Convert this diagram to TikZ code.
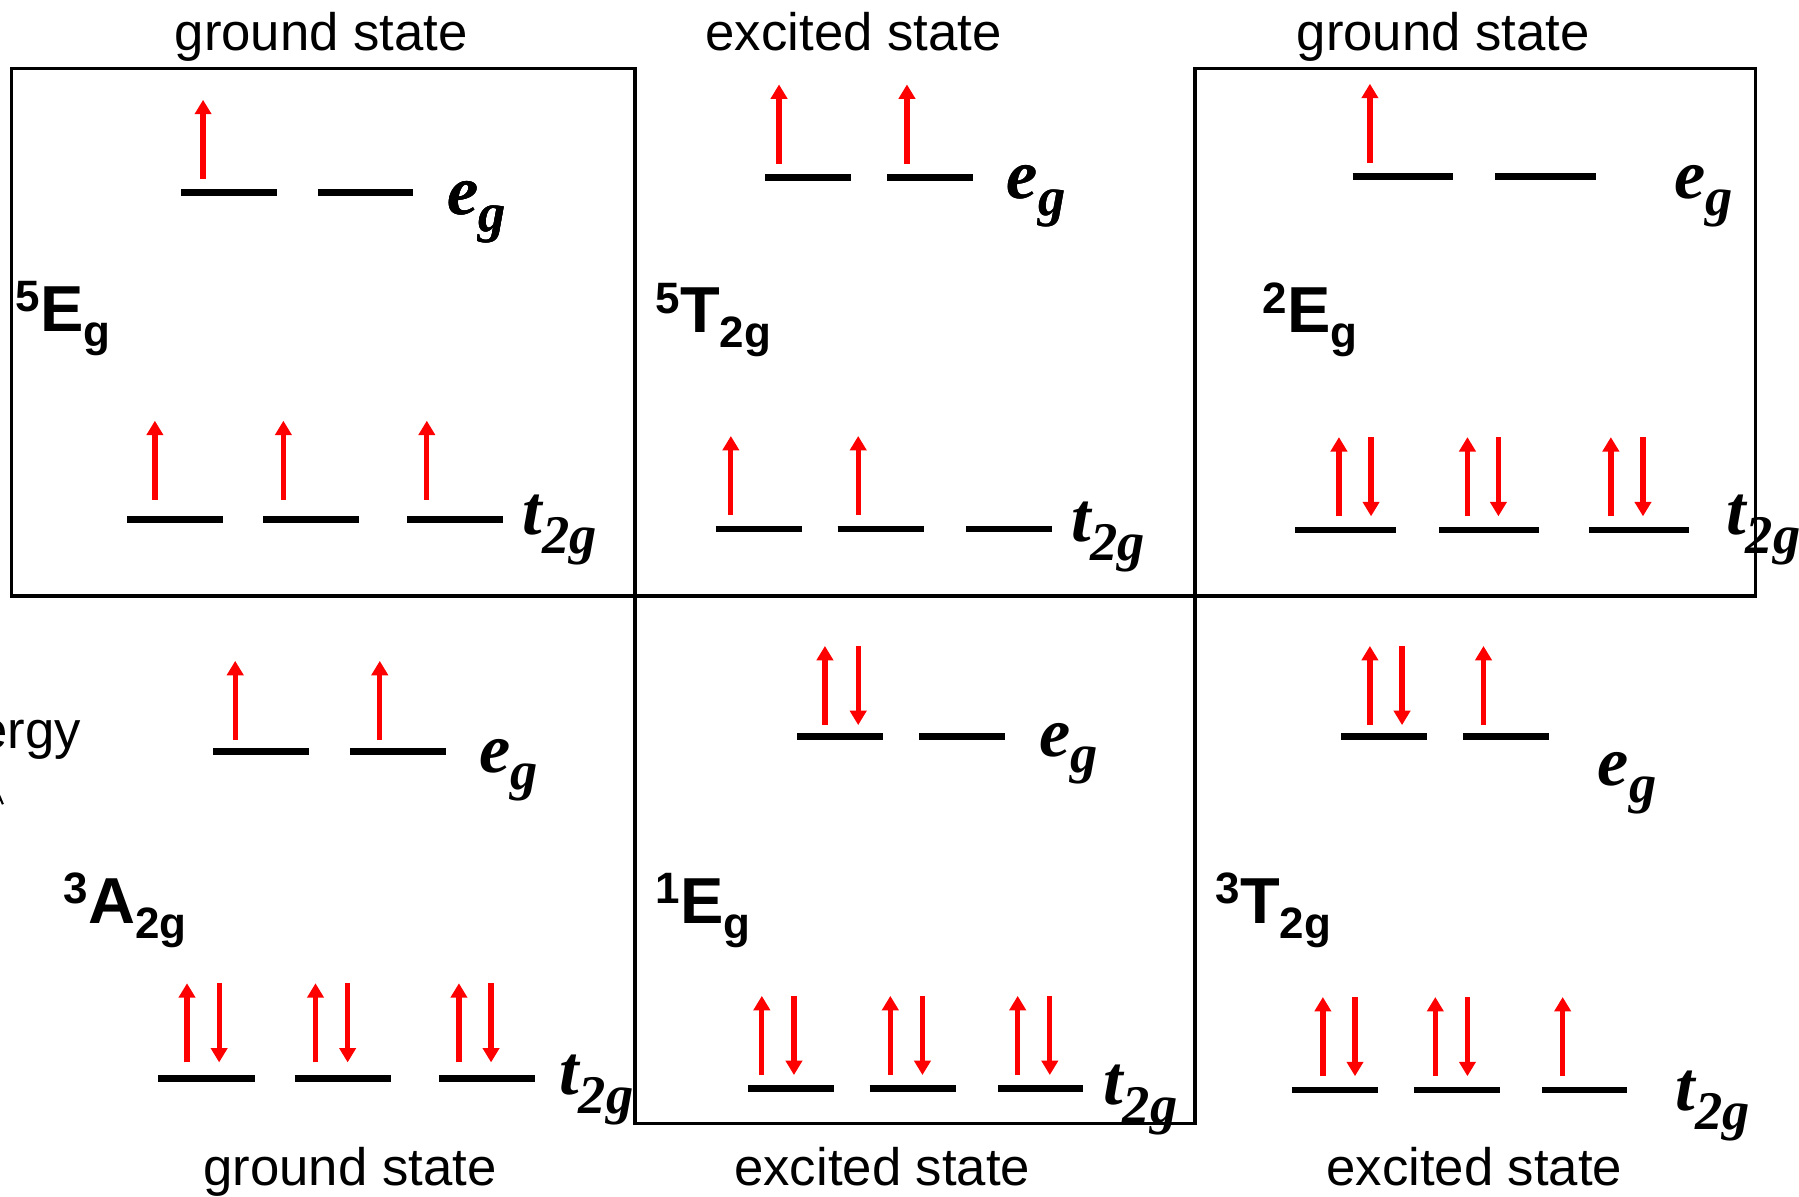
\documentclass[tikz,border=0pt]{standalone}
\usepackage{fontspec}
\setmainfont{Liberation Sans}
\newfontfamily\tnr{Liberation Serif}
\usepackage{tikz}
\usetikzlibrary{arrows.meta}
% orbital labels (bold italic serif) and term symbols (bold sans)
\newcommand{\orb}[3][4.8pt]{{\tnr\bfseries\itshape\fontsize{20}{22}\selectfont #2\raisebox{-#1}{\fontsize{15.5}{17}\selectfont #3}}}
\newcommand{\term}[3]{{\bfseries\raisebox{5.6pt}{\fontsize{12.5}{14}\selectfont #1}\fontsize{18.5}{22}\selectfont #2\raisebox{-4.2pt}{\fontsize{12.5}{14}\selectfont #3}}}
% spin arrows: [gap]{x}{level y}
\newcommand{\spinup}[3][12]{\draw[spin] (#2,{#3-#1}) -- (#2,{#3-#1-69});}
\newcommand{\spindn}[3][12]{\draw[spin] (#2,{#3-#1-69}) -- (#2,{#3-#1});}

\begin{document}
\begin{tikzpicture}[
    x=0.011473cm, y=-0.011473cm,
    lvl/.style={line width=1.9pt},
    spin/.style={red, line width=1.5pt, -{Triangle[length=4.1pt,width=4.6pt]}},
    frame/.style={line width=0.9pt},
    title/.style={font=\fontsize{15}{18}\selectfont, inner sep=0pt},
    lbl/.style={anchor=base west, inner sep=0pt},
  ]
  \useasboundingbox (0,0) rectangle (1568,1043);

  % frames
  \draw[frame] (10,59.5) rectangle (553.5,519.5);
  \draw[frame] (1041.6,59.5) rectangle (1529.7,519.5);
  \draw[frame] (553.5,519.5) rectangle (1041.6,979);

  % titles
  \node[title, anchor=base] (gsA) at (280,44) {ground state};
  \node[title, anchor=base] (esA) at (744,44) {excited state};
  \node[title, anchor=base] (gsB) at (1258,44) {ground state};
  \node[title, anchor=base] (gsC) at (305,1033) {ground state};
  \node[title, anchor=base] (esB) at (769,1033) {excited state};
  \node[title, anchor=base] (esC) at (1285,1033) {excited state};
  \node[title, anchor=base east] (en) at (71,652) {Energy};
  \coordinate (axA) at (-3,688);
  \coordinate (axB) at (2.5,701);
  \draw[line width=0.6pt] (axA) -- (axB);

  % 5Eg, ground state
  \foreach \a/\b in {158/241, 277/360} \draw[lvl] (\a,168) -- (\b,168);
  \spinup{177}{168}
  \foreach \a/\b in {111/194, 229.5/313, 355/438} \draw[lvl] (\a,452.7) -- (\b,452.7);
  \foreach \x in {135,247,372} \spinup[17]{\x}{452.7}
  \node[lbl] (egA) at (389,187) {\orb{e}{g}};
  \node[lbl] (tgA) at (455,466) {\orb[5.4pt]{t}{2g}};
  \node[lbl] (stA) at (13,289) {\term{5}{E}{g}};

  % 5T2g, excited state
  \foreach \a/\b in {667/741.5, 773.4/848} \draw[lvl] (\a,154.6) -- (\b,154.6);
  \foreach \x in {679,790.5} \spinup{\x}{154.6}
  \foreach \a/\b in {624/699, 730/805, 842/917} \draw[lvl] (\a,461) -- (\b,461);
  \foreach \x in {637,748} \spinup{\x}{461}
  \node[lbl] (egB) at (877,173) {\orb{e}{g}};
  \node[lbl] (tgB) at (933,472) {\orb[5.4pt]{t}{2g}};
  \node[lbl] (stB) at (571,290) {\term{5}{T}{2g}};

  % 2Eg, ground state
  \foreach \a/\b in {1179/1266, 1303/1391} \draw[lvl] (\a,154) -- (\b,154);
  \spinup{1194}{154}
  \foreach \a/\b in {1129/1217, 1254/1341, 1385/1472} \draw[lvl] (\a,462) -- (\b,462);
  \foreach \u/\d in {1167/1195, 1279/1306, 1404/1432} {\spinup{\u}{462} \spindn{\d}{462}}
  \node[lbl] (egC) at (1459,173) {\orb{e}{g}};
  \node[lbl] (tgC) at (1504,466) {\orb[5.4pt]{t}{2g}};
  \node[lbl] (stC) at (1100,290) {\term{2}{E}{g}};

  % 3A2g, ground state
  \foreach \a/\b in {186/269, 305/389} \draw[lvl] (\a,655) -- (\b,655);
  \foreach \x in {205,331} \spinup[10]{\x}{655}
  \foreach \a/\b in {138/222, 257/341, 383/466} \draw[lvl] (\a,940) -- (\b,940);
  \foreach \u/\d in {163/191, 275/303, 400/428} {\spinup[14]{\u}{940} \spindn[14]{\d}{940}}
  \node[lbl] (egD) at (417,673) {\orb{e}{g}};
  \node[lbl] (tgD) at (487,954) {\orb[5.4pt]{t}{2g}};
  \node[lbl] (stD) at (55,805) {\term{3}{A}{2g}};

  % 1Eg, excited state
  \foreach \a/\b in {695/770, 801/876} \draw[lvl] (\a,642) -- (\b,642);
  \spinup[10]{719}{642} \spindn[10]{748}{642}
  \foreach \a/\b in {652/727, 758/833, 870/944} \draw[lvl] (\a,949) -- (\b,949);
  \foreach \u/\d in {664/692, 776/804, 887/915} {\spinup{\u}{949} \spindn{\d}{949}}
  \node[lbl] (egE) at (905,659) {\orb{e}{g}};
  \node[lbl] (tgE) at (961,963) {\orb[5.4pt]{t}{2g}};
  \node[lbl] (stE) at (571,805) {\term{1}{E}{g}};

  % 3T2g, excited state
  \foreach \a/\b in {1169/1244, 1275/1350} \draw[lvl] (\a,642) -- (\b,642);
  \spinup[10]{1194}{642} \spindn[10]{1222}{642} \spinup[10]{1293}{642}
  \foreach \a/\b in {1126/1201, 1232.5/1307, 1344/1418} \draw[lvl] (\a,950) -- (\b,950);
  \foreach \u/\d in {1153/1181, 1251/1279} {\spinup{\u}{950} \spindn{\d}{950}}
  \spinup{1362}{950}
  \node[lbl] (egF) at (1392,685) {\orb{e}{g}};
  \node[lbl] (tgF) at (1460,968) {\orb[5.4pt]{t}{2g}};
  \node[lbl] (stF) at (1059,805) {\term{3}{T}{2g}};
\end{tikzpicture}
\end{document}
